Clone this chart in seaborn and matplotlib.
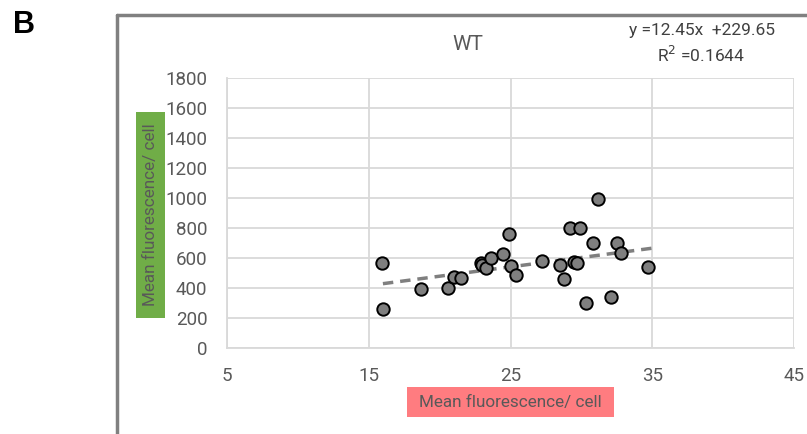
import matplotlib
matplotlib.use("Agg")
import matplotlib.pyplot as plt
import seaborn as sns
import pandas as pd
import numpy as np
from matplotlib.lines import Line2D
from matplotlib.patches import Rectangle

x_vals = [15.9, 16.0, 18.7, 20.6, 21.0, 21.5, 22.9, 23.0, 23.3, 23.6, 24.5, 24.9, 25.0, 25.4,
          27.2, 28.5, 28.8, 29.2, 29.9, 29.5, 29.7, 30.3, 30.8, 31.2, 32.1, 32.5, 32.8, 34.7]
y_vals = [570, 258, 391, 402, 475, 464, 569, 553, 531, 598, 624, 758, 547, 487,
          578, 553, 458, 798, 798, 575, 564, 298, 702, 991, 342, 702, 635, 542]
slope = 12.45
intercept = 229.65
r2 = 0.1644
trend_x = [16.0, 35.0]
x_ticks = [5, 15, 25, 35, 45]
y_ticks = [0, 200, 400, 600, 800, 1000, 1200, 1400, 1600, 1800]

sns.set_style("white")
plt.rcParams['font.family'] = ['Roboto', 'DejaVu Sans']

W, H = 807, 434
fig = plt.figure(figsize=(8.07, 4.34), dpi=100)
ax = fig.add_axes([227/W, 1-348/H, (794-227)/W, (348-78)/H])

df = pd.DataFrame({"x": x_vals, "y": y_vals})
sns.scatterplot(data=df, x="x", y="y", ax=ax, s=80, color="#7f7f7f",
                edgecolor="black", linewidth=1.4, zorder=3)
tdf = pd.DataFrame({"x": trend_x, "y": [slope * v + intercept for v in trend_x]})
sns.lineplot(data=tdf, x="x", y="y", ax=ax, color="#7f7f7f", linewidth=2.5,
             linestyle=(0, (3, 2)), zorder=2)

ax.set_xlim(5, 45)
ax.set_ylim(0, 1800)
ax.set_xticks(x_ticks)
ax.set_yticks(y_ticks)
ax.grid(True, color="#d9d9d9", linewidth=1.3)
for s in ["top", "right"]:
    ax.spines[s].set_visible(False)
for s in ["left", "bottom"]:
    ax.spines[s].set_color("#d9d9d9")
    ax.spines[s].set_linewidth(1.3)
ax.tick_params(axis="both", length=0, labelsize=13.5, labelcolor="#595959", pad=14)
ax.tick_params(axis="y", pad=14)
ax.set_xlabel("")
ax.set_ylabel("")

fig.text(468/W, 1-45/H, "WT", ha="center", va="center", fontsize=15, color="#595959")
fig.text(702/W, 1-31/H, f"y ={slope}x  +{intercept}", ha="center", va="center",
         fontsize=12.5, color="#404040")
fig.text(701/W, 1-55/H, f"R$^2$ ={r2}", ha="center", va="center", fontsize=12.5, color="#404040")

# axis title boxes
fig.add_artist(Rectangle((407/W, 1-417/H), (614-407)/W, (417-387)/H, transform=fig.transFigure,
                         facecolor="#ff7c80", edgecolor="none"))
fig.text(510/W, 1-402/H, "Mean fluorescence/ cell", ha="center", va="center", fontsize=12.3,
         color="#595959")
fig.add_artist(Rectangle((136/W, 1-318/H), (165-136)/W, (318-112)/H, transform=fig.transFigure,
                         facecolor="#70ad47", edgecolor="none"))
fig.text(151/W, 1-215/H, "Mean fluorescence/ cell", ha="center", va="center", fontsize=12.3,
         color="#595959", rotation=90)

fig.text(24/W, 1-25/H, "B", ha="center", va="center", fontsize=22, fontweight="bold",
         family="Liberation Sans", color="black")

fig.add_artist(Line2D([117/W, 117/W], [0, 1-15/H], transform=fig.transFigure,
                      color="#808080", linewidth=2.5))
fig.add_artist(Line2D([117/W, 1], [1-15/H, 1-15/H], transform=fig.transFigure,
                      color="#808080", linewidth=2.5))

fig.savefig("out.png", dpi=100)
